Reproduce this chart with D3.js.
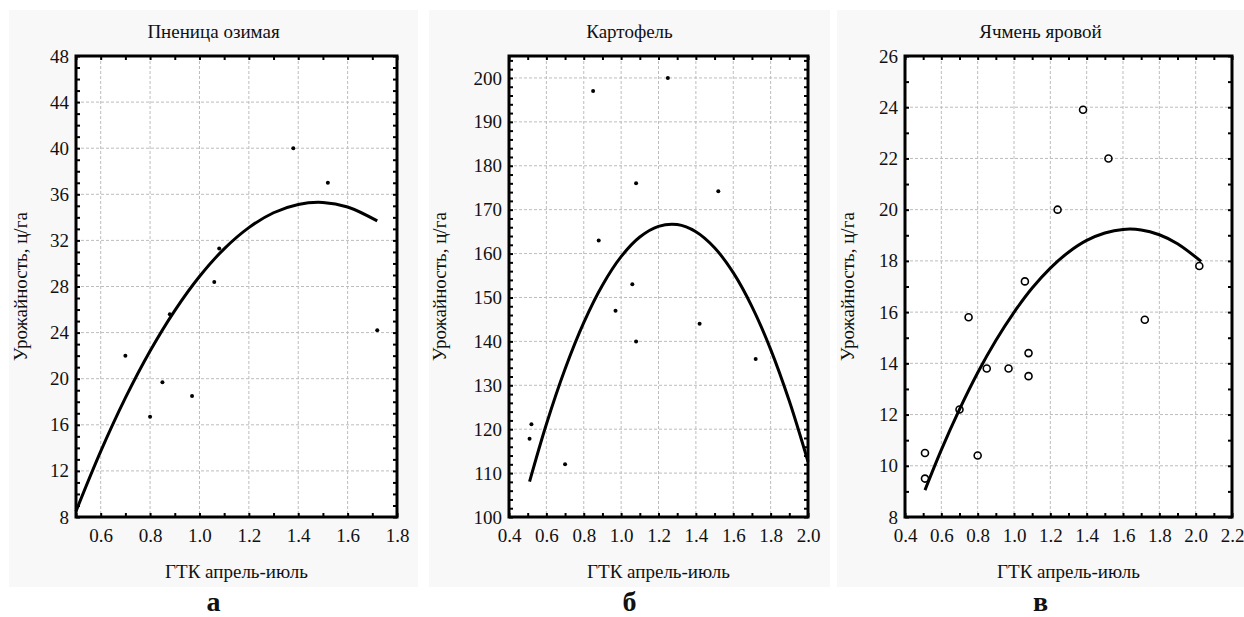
<!DOCTYPE html>
<html>
<head>
<meta charset="utf-8">
<script src="https://d3js.org/d3.v7.min.js"></script>
<style>
  body { margin: 0; background: #fff; }
  svg, svg text { font-family: "Liberation Serif", "DejaVu Serif", serif !important; }
  svg text { fill: #111; }
</style>
</head>
<body>
<svg id="chart" width="1244" height="617" font-family="Liberation Serif"></svg>
<script>
// ---- data ----
var titles = ["Пненица озимая", "Картофель", "Ячмень яровой"];
var letters = ["а", "б", "в"];
var xTitle = "ГТК апрель-июль";
var yTitle = "Урожайность, ц/га";

// winter wheat
var wheatX = [0.70, 0.80, 0.85, 0.88, 0.97, 1.06, 1.08, 1.38, 1.52, 1.72];
var wheatY = [22.0, 16.7, 19.7, 25.6, 18.5, 28.4, 31.3, 40.0, 37.0, 24.2];
var wheatFitX = [0.50, 0.60, 0.70, 0.80, 0.90, 1.00, 1.10, 1.20, 1.30, 1.40, 1.50, 1.60, 1.72];
var wheatFitY = [8.50, 13.69, 18.33, 22.40, 25.91, 28.87, 31.27, 33.11, 34.40, 35.12, 35.29, 34.90, 33.69];

// potato
var potatoX = [0.51, 0.52, 0.70, 0.85, 0.88, 0.97, 1.06, 1.08, 1.08, 1.25, 1.42, 1.52, 1.72];
var potatoY = [117.8, 121.1, 112.0, 197.0, 163.0, 147.0, 153.0, 176.0, 140.0, 200.0, 144.0, 174.2, 136.0];
var potatoFitX = [0.51, 0.60, 0.70, 0.80, 0.90, 1.00, 1.10, 1.20, 1.30, 1.40, 1.50, 1.60, 1.70, 1.80, 1.90, 2.00];
var potatoFitY = [108.07, 121.14, 133.72, 144.28, 152.80, 159.30, 163.77, 166.20, 166.61, 164.98, 161.33, 155.65, 147.93, 138.19, 126.41, 112.61];

// spring barley
var barleyX = [0.51, 0.51, 0.70, 0.75, 0.80, 0.85, 0.97, 1.06, 1.08, 1.08, 1.24, 1.38, 1.52, 1.72, 2.02];
var barleyY = [9.5, 10.5, 12.2, 15.8, 10.4, 13.8, 13.8, 17.2, 14.4, 13.5, 20.0, 23.9, 22.0, 15.7, 17.8];
var barleyFitX = [0.51, 0.60, 0.70, 0.80, 0.90, 1.00, 1.10, 1.20, 1.30, 1.40, 1.50, 1.60, 1.70, 1.80, 1.90, 2.03];
var barleyFitY = [9.05, 10.62, 12.20, 13.63, 14.89, 15.99, 16.94, 17.72, 18.34, 18.80, 19.09, 19.23, 19.21, 19.02, 18.67, 17.98];

// axis settings per panel
var xDomains = [[0.5, 1.8], [0.4, 2.0], [0.4, 2.2]];
var yDomains = [[8, 48], [100, 205], [8, 26]];
var xMajor = [[0.6, 0.8, 1.0, 1.2, 1.4, 1.6, 1.8],
              [0.4, 0.6, 0.8, 1.0, 1.2, 1.4, 1.6, 1.8, 2.0],
              [0.4, 0.6, 0.8, 1.0, 1.2, 1.4, 1.6, 1.8, 2.0, 2.2]];
var yMajor = [[8, 12, 16, 20, 24, 28, 32, 36, 40, 44, 48],
              [100, 110, 120, 130, 140, 150, 160, 170, 180, 190, 200],
              [8, 10, 12, 14, 16, 18, 20, 22, 24, 26]];
var xMinorStep = [0.1, 0.1, 0.1];
var yMinorStep = [1, 2, 1];

var panels = [
  {px: wheatX, py: wheatY, fx: wheatFitX, fy: wheatFitY, open: false},
  {px: potatoX, py: potatoY, fx: potatoFitX, fy: potatoFitY, open: false},
  {px: barleyX, py: barleyY, fx: barleyFitX, fy: barleyFitY, open: true}
];

// layout
var bgBox = [[9, 418], [429, 830], [837, 1244]];
var plotX = [[76, 397], [509, 808], [905, 1232]];
var plotTop = 56, plotBottom = 517;
var yTitleX = [27, 446, 854];
var FONT = "Liberation Serif";

var svg = d3.select("#chart");

panels.forEach(function(p, i) {
  var g = svg.append("g").attr("font-family", FONT);
  var x0 = plotX[i][0], x1 = plotX[i][1];
  var w = x1 - x0, h = plotBottom - plotTop;

  g.append("rect")
    .attr("x", bgBox[i][0]).attr("y", 10)
    .attr("width", bgBox[i][1] - bgBox[i][0]).attr("height", 577)
    .attr("fill", "#f8f8f8");

  var x = d3.scaleLinear().domain(xDomains[i]).range([x0, x1]);
  var y = d3.scaleLinear().domain(yDomains[i]).range([plotBottom, plotTop]);

  var plot = g.append("g");
  plot.append("rect").attr("x", x0).attr("y", plotTop).attr("width", w).attr("height", h).attr("fill", "#fff");

  // grid
  var gridX = xMajor[i].filter(function(v) { return v > xDomains[i][0] && v < xDomains[i][1]; });
  var gridY = yMajor[i].filter(function(v) { return v > yDomains[i][0] && v < yDomains[i][1]; });
  plot.selectAll("line.gx").data(gridX).enter().append("line")
    .attr("x1", function(d) { return x(d); }).attr("x2", function(d) { return x(d); })
    .attr("y1", plotTop).attr("y2", plotBottom)
    .attr("stroke", "#bdbdbd").attr("stroke-dasharray", "3,2");
  plot.selectAll("line.gy").data(gridY).enter().append("line")
    .attr("y1", function(d) { return y(d); }).attr("y2", function(d) { return y(d); })
    .attr("x1", x0).attr("x2", x1)
    .attr("stroke", "#bdbdbd").attr("stroke-dasharray", "3,2");

  // minor ticks on all four sides (inward)
  var xm = d3.range(xDomains[i][0], xDomains[i][1] + 1e-9, xMinorStep[i]);
  var ym = d3.range(yDomains[i][0], yDomains[i][1] + 1e-9, yMinorStep[i]);
  var noLab = function() { return ""; };
  plot.append("g").attr("transform", "translate(0," + plotBottom + ")")
    .call(d3.axisBottom(x).tickValues(xm).tickSize(-4).tickFormat(noLab));
  plot.append("g").attr("transform", "translate(0," + plotTop + ")")
    .call(d3.axisTop(x).tickValues(xm).tickSize(-4).tickFormat(noLab));
  plot.append("g").attr("transform", "translate(" + x0 + ",0)")
    .call(d3.axisLeft(y).tickValues(ym).tickSize(-4).tickFormat(noLab));
  plot.append("g").attr("transform", "translate(" + x1 + ",0)")
    .call(d3.axisRight(y).tickValues(ym).tickSize(-4).tickFormat(noLab));
  plot.selectAll(".domain").remove();
  plot.selectAll(".tick line").attr("stroke", "#000").attr("stroke-width", 2);

  // labels
  var xa = g.append("g").attr("transform", "translate(0," + plotBottom + ")")
    .call(d3.axisBottom(x).tickValues(xMajor[i]).tickSize(0).tickPadding(12).tickFormat(d3.format(".1f")));
  var ya = g.append("g").attr("transform", "translate(" + x0 + ",0)")
    .call(d3.axisLeft(y).tickValues(yMajor[i]).tickSize(0).tickPadding(7).tickFormat(d3.format("d")));
  [xa, ya].forEach(function(a) {
    a.attr("font-family", FONT).attr("font-size", 19);
    a.select(".domain").remove();
    a.selectAll("text").attr("fill", "#111");
  });

  // fit curve
  var fit = p.fx.map(function(v, k) { return [v, p.fy[k]]; });
  plot.append("path").datum(fit)
    .attr("d", d3.line().x(function(d) { return x(d[0]); }).y(function(d) { return y(d[1]); }).curve(d3.curveCatmullRom))
    .attr("fill", "none").attr("stroke", "#000").attr("stroke-width", 3);

  // points
  var pts = p.px.map(function(v, k) { return [v, p.py[k]]; });
  plot.selectAll("circle.pt").data(pts).enter().append("circle")
    .attr("cx", function(d) { return x(d[0]); })
    .attr("cy", function(d) { return y(d[1]); })
    .attr("r", p.open ? 3.5 : 2)
    .attr("fill", p.open ? "none" : "#000")
    .attr("stroke", p.open ? "#000" : "none")
    .attr("stroke-width", 1.6);

  // frame
  plot.append("rect").attr("x", x0).attr("y", plotTop).attr("width", w).attr("height", h)
    .attr("fill", "none").attr("stroke", "#000").attr("stroke-width", 3);

  // titles
  var cx = (bgBox[i][0] + bgBox[i][1]) / 2;
  g.append("text").attr("x", cx).attr("y", 38).attr("text-anchor", "middle")
    .attr("font-size", 19).text(titles[i]);
  g.append("text").attr("x", (x0 + x1) / 2).attr("y", 578).attr("text-anchor", "middle")
    .attr("font-size", 19).text(xTitle);
  g.append("text").attr("transform", "translate(" + yTitleX[i] + "," + (plotTop + plotBottom) / 2 + ") rotate(-90)")
    .attr("text-anchor", "middle").attr("font-size", 19).text(yTitle);
  g.append("text").attr("x", cx).attr("y", 611).attr("text-anchor", "middle")
    .attr("font-size", 28).attr("font-weight", "bold").text(letters[i]);
});
</script>
</body>
</html>
